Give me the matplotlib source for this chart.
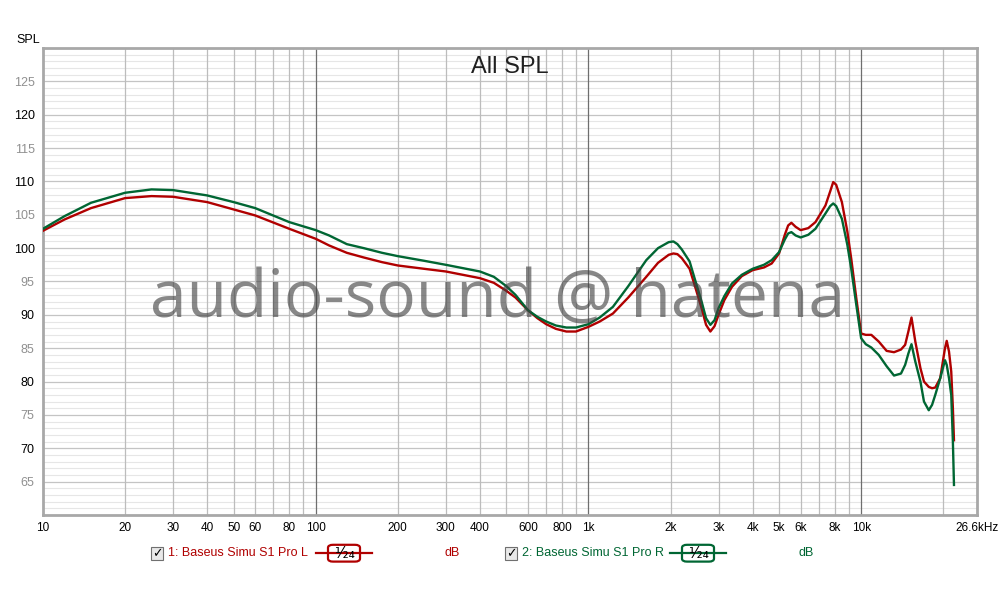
import numpy as np
import matplotlib.pyplot as plt
from matplotlib.patches import FancyBboxPatch, Rectangle
from matplotlib.lines import Line2D

# 讀取自圖表的數值 (Hz, dB)
freq = [10, 12, 15, 20, 25, 30, 40, 50, 60, 80, 100, 112, 130, 150, 175, 200,
        250, 300, 400, 450, 500, 540, 600, 650, 700, 760, 830, 900, 1000, 1100,
        1230, 1400, 1630, 1800, 1970, 2050, 2120, 2200, 2350, 2450, 2600, 2700,
        2800, 2900, 3000, 3150, 3360, 3650, 4000, 4400, 4700, 5000, 5250, 5400,
        5550, 5750, 6000, 6400, 6800, 7400, 7700, 7900, 8100, 8500, 8900, 9200,
        9600, 10000, 10400, 10900, 11600, 12400, 13200, 14000, 14500, 14900,
        15300, 15800, 16500, 17000, 17700, 18200, 18700, 19500, 20300, 20600,
        21000, 21400, 21700, 21900]

spl_L = [102.6, 104.3, 106.0, 107.5, 107.8, 107.7, 106.9, 105.8, 104.9, 102.9,
         101.4, 100.4, 99.3, 98.6, 97.9, 97.4, 96.9, 96.5, 95.5, 94.8, 93.6,
         92.6, 90.7, 89.5, 88.6, 87.9, 87.5, 87.5, 88.2, 89.0, 90.2, 92.6, 95.7,
         97.8, 99.0, 99.2, 99.1, 98.5, 96.9, 94.5, 91.0, 88.5, 87.5, 88.3, 90.0,
         92.2, 94.2, 95.8, 96.7, 97.1, 97.7, 99.2, 102.0, 103.4, 103.8, 103.2,
         102.7, 103.0, 103.9, 106.4, 108.5, 109.9, 109.5, 106.9, 102.5, 98.4,
         92.5, 87.2, 87.0, 87.0, 86.0, 84.6, 84.4, 84.8, 85.5, 87.5, 89.6, 86.0,
         82.0, 80.0, 79.2, 79.0, 79.1, 80.5, 85.0, 86.1, 84.5, 81.5, 76.0, 71.2]

spl_R = [102.9, 104.8, 106.8, 108.3, 108.8, 108.7, 107.9, 106.9, 106.0, 103.9,
         102.7, 101.9, 100.6, 100.0, 99.3, 98.8, 98.1, 97.5, 96.5, 95.7, 94.3,
         93.0, 90.7, 89.7, 89.0, 88.4, 88.1, 88.1, 88.6, 89.6, 91.2, 94.3, 98.2,
         100.0, 100.9, 101.0, 100.6, 99.8, 98.0, 95.5, 92.0, 89.5, 88.5, 89.2,
         91.0, 92.8, 94.7, 96.0, 96.9, 97.5, 98.2, 99.4, 101.3, 102.2, 102.4,
         101.9, 101.6, 102.0, 102.9, 105.2, 106.3, 106.7, 106.3, 104.4, 100.5,
         96.9, 91.5, 86.5, 85.6, 85.1, 84.0, 82.3, 80.9, 81.2, 82.5, 84.2, 85.6,
         83.0, 80.0, 77.0, 75.7, 76.5, 78.0, 80.5, 83.2, 82.5, 80.5, 78.0, 71.0,
         64.5]

xtick_pos = [10, 20, 30, 40, 50, 60, 80, 100, 200, 300, 400, 600, 800, 1000,
             2000, 3000, 4000, 5000, 6000, 8000, 10000, 26600]
xtick_lab = ['10', '20', '30', '40', '50', '60', '80', '100', '200', '300', '400',
             '600', '800', '1k', '2k', '3k', '4k', '5k', '6k', '8k', '10k', '26.6kHz']
ytick_pos = list(range(65, 130, 5))

red = '#b00000'
green = '#006633'

plt.rcParams['font.family'] = ['Liberation Sans', 'DejaVu Sans']

fig = plt.figure(figsize=(10, 6), dpi=100)
ax = fig.add_axes([0.043, 0.1417, 0.934, 0.7783])
ax.set_xscale('log')
ax.set_xlim(10, 26600)
ax.set_ylim(60, 130)

# 格線
for v in range(61, 130):
    if v % 5 == 0:
        ax.axhline(v, color='#c4c4c4', lw=0.9, zorder=0)
    else:
        ax.axhline(v, color='#e6e6e6', lw=0.8, zorder=0)
for dec in [10, 100, 1000, 10000]:
    for m in range(1, 10):
        f = dec * m
        if f <= 10 or f >= 26600:
            continue
        if m == 1:
            ax.axvline(f, color='#6e6e6e', lw=0.9, zorder=0)
        else:
            ax.axvline(f, color='#bcbcbc', lw=0.9, zorder=0)

ax.plot(freq, spl_L, color=red, lw=1.7, zorder=3, solid_joinstyle='round')
ax.plot(freq, spl_R, color=green, lw=1.7, zorder=4, solid_joinstyle='round')

ax.set_xticks(xtick_pos)
ax.set_xticklabels(xtick_lab, fontsize=8.5)
ax.xaxis.set_minor_locator(plt.NullLocator())
ax.set_yticks(ytick_pos)
ax.set_yticklabels([str(v) for v in ytick_pos], fontsize=9)
for lab, v in zip(ax.get_yticklabels(), ytick_pos):
    lab.set_color('black' if v % 10 == 0 else '#909090')
ax.tick_params(length=0, pad=6)
ax.tick_params(axis='x', pad=5)

for s in ax.spines.values():
    s.set_color('#a8a8a8')
    s.set_linewidth(2)

ax.text(0.5, 0.96, 'All SPL', transform=ax.transAxes, ha='center', va='center',
        fontsize=17, color='#202020')
ax.text(0.487, 0.462, 'audio-sound @ hatena', transform=ax.transAxes, ha='center',
        va='center', fontsize=47.5, color='#404040', alpha=0.62, zorder=5,
        family='Open Sans')

fig.text(0.016, 0.933, 'SPL', fontsize=9, ha='left', va='center')

# 圖例
legend_y = 0.078
def legend_item(x0, label, col):
    fig.patches.append(Rectangle((x0, legend_y - 0.011), 0.012, 0.022,
                                 transform=fig.transFigure, facecolor='#e8e8e8',
                                 edgecolor='#707070', lw=0.8))
    fig.text(x0 + 0.006, legend_y, '\u2713', fontsize=9, ha='center', va='center',
             family='DejaVu Sans', fontweight='bold')
    fig.text(x0 + 0.011 + 0.006, legend_y, label, fontsize=9, color=col,
             ha='left', va='center')
    lx = x0 + 0.165
    fig.lines.append(Line2D([lx, lx + 0.056], [legend_y, legend_y],
                            transform=fig.transFigure, color=col, lw=1.6))
    fig.patches.append(FancyBboxPatch((lx + 0.014, legend_y - 0.012), 0.028, 0.024,
                                      boxstyle='round,pad=0.002,rounding_size=0.005',
                                      transform=fig.transFigure, facecolor='white',
                                      edgecolor=col, lw=1.6))
    fig.text(lx + 0.028, legend_y, '\u00b9\u2044\u2082\u2084', fontsize=11,
             ha='center', va='center', family='DejaVu Sans')
    fig.text(x0 + 0.301, legend_y, 'dB', fontsize=9, color=col, ha='center',
             va='center')

legend_item(0.151, '1: Baseus Simu S1 Pro L', red)
legend_item(0.505, '2: Baseus Simu S1 Pro R', green)

fig.savefig('out.png', dpi=100)
